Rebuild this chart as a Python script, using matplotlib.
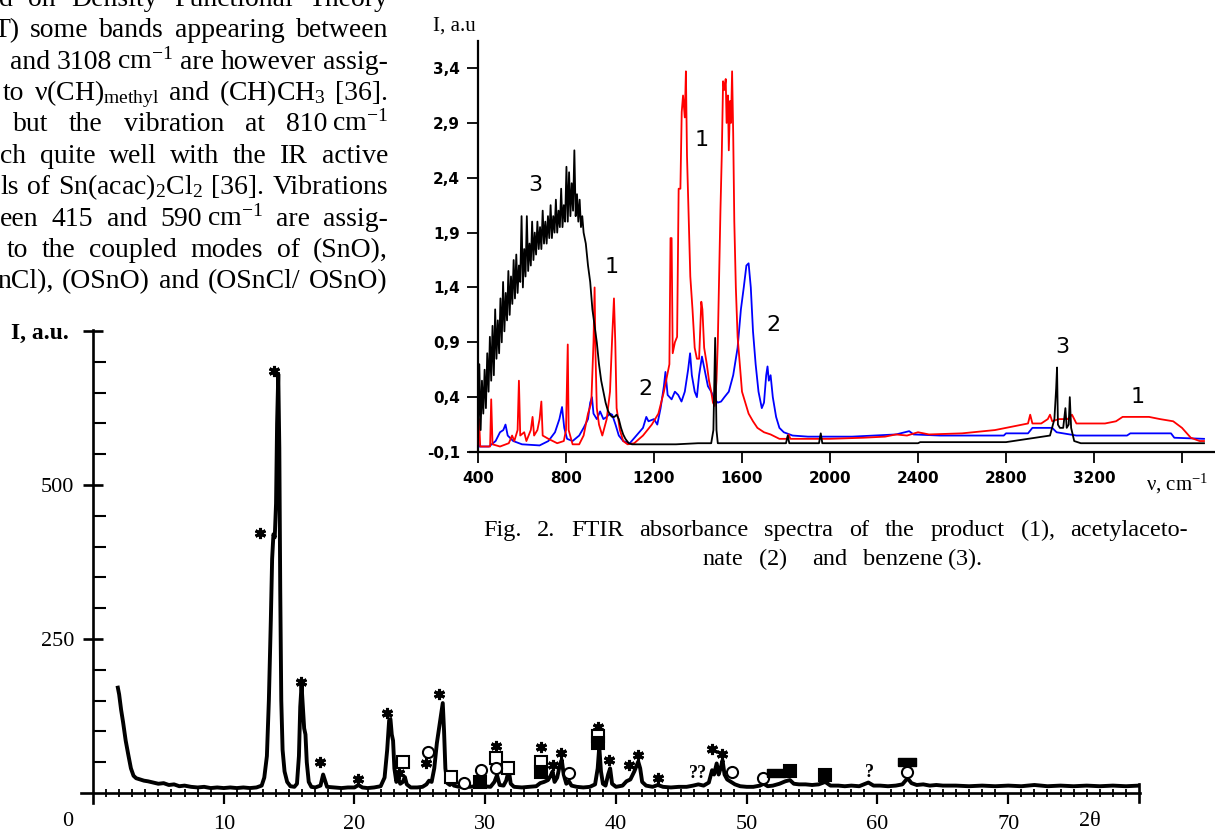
import matplotlib
matplotlib.use("Agg")
import matplotlib.pyplot as plt
from matplotlib.path import Path

# ---------------------------------------------------------------- data
# XRD pattern (2theta, intensity)
xrd_theta = [1.9, 2.0, 2.15, 2.3, 2.5, 2.7, 2.9, 3.1, 3.3, 3.6, 3.9, 4.2, 4.6, 5.0, 5.4, 5.8, 6.2, 6.6, 7.0,
             7.5, 8.0, 8.5, 9.0, 9.5, 10.0, 10.5, 11.0, 11.5, 12.0, 12.5, 12.9, 13.1, 13.3, 13.45, 13.6,
             13.7, 13.8, 13.9, 14.0, 14.08, 14.17, 14.25, 14.32, 14.4, 14.5, 14.65, 14.85, 15.1, 15.4,
             15.6, 15.75, 15.85, 15.95, 16.05, 16.15, 16.25, 16.35, 16.5, 16.7, 17.0, 17.4, 17.6, 17.75,
             17.9, 18.5, 19.0, 19.5, 20.0, 20.3, 20.6, 21.0, 21.5, 22.0, 22.3, 22.5, 22.65, 22.75, 22.85,
             22.95, 23.05, 23.2, 23.35, 23.5, 23.7, 23.85, 24.0, 24.3, 24.8, 25.2, 25.5, 25.7, 25.9, 26.1,
             26.3, 26.5, 26.6, 26.75, 26.85, 26.95, 27.1, 27.3, 27.45, 27.6, 28.0, 28.4, 28.8, 29.3, 29.6,
             29.9, 30.4, 30.7, 30.9, 31.1, 31.4, 31.6, 31.8, 31.95, 32.2, 32.8, 33.4, 33.9, 34.2, 34.5,
             34.8, 35.0, 35.15, 35.3, 35.5, 35.7, 35.85, 36.0, 36.2, 36.4, 36.6, 37.0, 37.5, 38.0, 38.4,
             38.6, 38.72, 38.85, 39.0, 39.2, 39.4, 39.55, 39.7, 40.0, 40.5, 40.8, 41.1, 41.4, 41.7, 41.85,
             42.0, 42.3, 42.8, 43.2, 43.6, 44.2, 44.8, 45.4, 45.9, 46.3, 46.7, 47.1, 47.35, 47.5, 47.7,
             47.85, 48.0, 48.15, 48.3, 48.5, 48.8, 49.1, 49.5, 50.0, 50.5, 51.0, 51.3, 51.6, 52.0, 52.5,
             52.95, 53.3, 53.6, 54.0, 54.5, 55.0, 55.5, 56.0, 56.4, 57.0, 57.5, 58.0, 58.6, 59.3, 59.7,
             60.2, 60.8, 61.4, 61.9, 62.3, 62.6, 63.0, 63.5, 64.0, 64.5, 65.0, 66.0, 67.0, 68.0, 69.0,
             70.0, 71.0, 72.0, 73.0, 74.0, 75.0, 76.0, 77.0, 78.0, 79.0, 80.0]
xrd_int = [171, 160, 135, 115, 85, 62, 40, 28, 24, 22, 20, 19, 17, 15, 16, 13, 14, 11, 12,
           10, 9, 10, 8, 9, 8, 9, 8, 9, 8, 9, 12, 25, 60, 150, 280,
           380, 420, 415, 470, 600, 680, 560, 330, 150, 70, 35, 18, 11, 10,
           15, 60, 140, 175, 140, 105, 95, 50, 18, 10, 9, 12, 30, 20,
           10, 9, 8, 9, 9, 13, 9, 8, 9, 11, 25, 70, 118, 120, 95,
           85, 40, 18, 24, 15, 18, 26, 14, 9, 9, 10, 14, 20, 18, 40,
           81, 110, 125, 146, 100, 40, 16, 13, 20, 12, 10, 12, 10, 11, 15,
           11, 10, 18, 29, 13, 12, 20, 37, 15, 10, 9, 10, 11, 16, 18,
           21, 28, 35, 18, 25, 45, 54, 30, 15, 19, 12, 10, 9, 10, 14,
           40, 75, 35, 15, 12, 30, 40, 15, 10, 12, 19, 22, 35, 51, 40,
           18, 12, 10, 13, 10, 9, 10, 10, 12, 14, 12, 17, 37, 30, 48,
           30, 40, 53, 30, 22, 18, 14, 11, 10, 10, 12, 15, 11, 12, 15,
           19, 21, 15, 14, 14, 13, 14, 18, 12, 12, 11, 12, 11, 17, 12,
           12, 11, 12, 14, 24, 16, 13, 14, 12, 13, 12, 12, 11, 12, 11,
           12, 11, 13, 11, 12, 11, 12, 11, 12, 11, 12]

# phase markers on the XRD pattern (2theta, intensity)
star_th = [13.84, 12.77, 15.9, 17.36, 20.27, 22.49, 23.4, 25.47, 26.46, 30.82, 34.26, 35.18, 35.79,
           38.62, 39.46, 40.99, 41.68, 43.21, 47.34, 48.1]
star_i = [685, 422, 180, 50, 23, 130, 33, 49, 161, 76, 75, 45, 65, 107, 54, 45, 62, 24, 71, 63]
osq_th = [23.71, 27.38, 30.82, 31.74, 34.26, 38.62]
osq_i = [50, 26, 57, 41, 50, 93]
fsq_th = [29.6, 34.26, 38.62, 53.31, 55.98]
fsq_i = [18, 34, 81, 36, 29]
circ_th = [25.62, 28.37, 29.67, 30.82, 36.4, 48.87, 51.24, 62.26]
circ_i = [67, 16, 37, 41, 32, 34, 24, 34]
bar_th = [52.24, 62.26]
bar_i = [32, 50]
q_th = [46.27, 59.35]
q_i = [32, 34]
q_txt = ["??", "?"]

xrd_xticks = [10, 20, 30, 40, 50, 60, 70]
xrd_yticks = [250, 500, 750]
xrd_ylabels = ["250", "500", ""]

# FTIR spectra (wavenumber, absorbance)
benz_nu = [400, 406, 412, 418, 424, 430, 436, 442, 448, 454, 460, 466, 472, 478, 484, 490, 496, 502,
           508, 514, 520, 526, 532, 538, 544, 550, 556, 562, 568, 574, 580, 586, 592, 598, 604, 610,
           616, 622, 628, 634, 640, 646, 652, 658, 664, 670, 676, 682, 688, 694, 700, 706, 712, 718,
           724, 730, 736, 742, 748, 754, 760, 766, 772, 778, 784, 790, 796, 802, 808, 814, 820, 826,
           832, 838, 844, 850, 856, 862, 868, 874, 880, 890, 900, 910, 920, 930, 940, 950, 960, 970,
           980, 990, 1000, 1010, 1020, 1030, 1040, 1050, 1060, 1070, 1085, 1100, 1200, 1300, 1400,
           1460, 1470, 1478, 1484, 1490, 1600, 1800, 1808, 1815, 1950, 1958, 1965, 2400, 2410, 2800,
           2900, 3000, 3020, 3028, 3032, 3036, 3045, 3060, 3070, 3076, 3085, 3090, 3096, 3110, 3140,
           3700]
benz_a = [-0.05, 0.70, 0.10, 0.55, 0.25, 0.65, 0.30, 0.80, 0.45, 0.95, 0.55, 1.05, 0.60, 1.20, 0.75,
          1.10, 0.80, 1.30, 0.90, 1.45, 1.00, 1.35, 1.10, 1.55, 1.15, 1.50, 1.25, 1.65, 1.30, 1.70,
          1.35, 1.60, 1.45, 2.05, 1.40, 1.75, 1.50, 2.05, 1.55, 1.80, 1.60, 2.00, 1.65, 1.90, 1.70,
          2.00, 1.75, 1.95, 1.75, 2.10, 1.80, 2.00, 1.80, 2.05, 1.85, 2.15, 1.85, 2.05, 1.90, 2.20,
          1.90, 2.10, 1.95, 2.30, 1.95, 2.15, 2.00, 2.50, 2.00, 2.45, 2.05, 2.35, 2.10, 2.65, 2.05,
          2.25, 2.00, 2.20, 1.95, 2.05, 1.90, 1.80, 1.60, 1.45, 1.20, 1.05, 0.90, 0.70, 0.55, 0.45,
          0.35, 0.28, 0.24, 0.22, 0.22, 0.24, 0.20, 0.12, 0.06, 0.02, -0.02, -0.03, -0.03, -0.03, -0.02,
          -0.02, 0.10, 0.94, 0.10, -0.02, -0.02, -0.02, 0.05, -0.02, -0.02, 0.07, -0.02, -0.02, -0.01,
          -0.01, 0.02, 0.05, 0.20, 0.48, 0.67, 0.15, 0.12, 0.12, 0.30, 0.12, 0.15, 0.40, 0.12, 0.00,
          -0.02, -0.02]

prod_nu = [400, 405, 410, 430, 455, 460, 466, 500, 540, 555, 565, 580, 586, 592, 610, 620, 640, 648,
           655, 670, 680, 688, 694, 720, 760, 790, 800, 808, 812, 830, 860, 880, 900, 915, 925, 930,
           934, 940, 950, 965, 985, 1000, 1010, 1018, 1024, 1030, 1045, 1060, 1080, 1110, 1150, 1190,
           1220, 1245, 1260, 1270, 1275, 1280, 1285, 1295, 1305, 1312, 1320, 1326, 1332, 1340, 1345,
           1350, 1358, 1365, 1375, 1385, 1395, 1405, 1415, 1420, 1428, 1440, 1450, 1460, 1468, 1476,
           1484, 1490, 1496, 1502, 1508, 1514, 1520, 1526, 1530, 1536, 1540, 1546, 1550, 1555, 1560,
           1565, 1572, 1580, 1590, 1600, 1615, 1630, 1650, 1670, 1700, 1730, 1770, 1805, 1812, 1820,
           2000, 2150, 2250, 2300, 2350, 2400, 2450, 2600, 2750, 2850, 2900, 2910, 2920, 2960, 2990,
           3000, 3010, 3040, 3080, 3100, 3120, 3250, 3300, 3330, 3450, 3500, 3560, 3600, 3640, 3680,
           3700]
prod_a = [-0.03, 0.20, -0.05, -0.05, -0.05, 0.38, -0.03, -0.05, -0.02, 0.05, 0.00, 0.10, 0.55, 0.05,
          0.08, 0.00, 0.10, 0.22, 0.05, 0.10, 0.20, 0.36, 0.05, 0.02, -0.02, 0.00, 0.10, 0.88, 0.10,
          -0.03, -0.03, 0.05, 0.25, 0.35, 0.90, 1.40, 0.80, 0.30, 0.15, 0.05, 0.20, 0.45, 0.95, 1.30,
          0.90, 0.30, 0.10, 0.00, -0.03, -0.02, 0.05, 0.15, 0.25, 0.45, 0.60, 0.70, 1.85, 1.85, 0.80,
          0.90, 0.95, 2.30, 2.30, 3.00, 3.15, 2.95, 3.37, 2.60, 2.00, 1.50, 1.20, 0.85, 0.75, 0.75,
          1.27, 1.20, 0.85, 0.70, 0.55, 0.45, 0.35, 0.32, 0.55, 0.90, 1.50, 2.10, 2.60, 3.28, 3.20,
          3.30, 2.90, 3.15, 2.65, 3.10, 2.90, 3.37, 2.80, 2.00, 1.40, 0.95, 0.70, 0.45, 0.35, 0.25,
          0.18, 0.12, 0.08, 0.06, 0.02, 0.02, 0.06, 0.02, 0.02, 0.03, 0.04, 0.06, 0.05, 0.08, 0.06,
          0.07, 0.10, 0.14, 0.16, 0.24, 0.16, 0.16, 0.20, 0.24, 0.18, 0.20, 0.20, 0.24, 0.16, 0.16,
          0.18, 0.22, 0.22, 0.20, 0.18, 0.12, 0.03, 0.00, 0.00]

acac_nu = [400, 405, 450, 480, 500, 515, 525, 535, 560, 600, 680, 720, 750, 770, 782, 792, 805, 830,
           860, 880, 900, 910, 918, 925, 940, 955, 970, 985, 1000, 1010, 1025, 1040, 1060, 1090, 1120,
           1150, 1165, 1175, 1200, 1215, 1230, 1245, 1252, 1262, 1280, 1295, 1310, 1325, 1340, 1355,
           1364, 1372, 1385, 1395, 1405, 1418, 1430, 1445, 1460, 1475, 1490, 1505, 1520, 1540, 1560,
           1580, 1595, 1608, 1620, 1630, 1640, 1650, 1662, 1675, 1690, 1700, 1710, 1716, 1722, 1730,
           1740, 1755, 1770, 1790, 1830, 1900, 2000, 2100, 2200, 2300, 2340, 2360, 2380, 2500, 2790,
           2800, 2900, 2920, 3010, 3030, 3120, 3350, 3365, 3550, 3565, 3700]
acac_a = [0.02, -0.05, -0.05, 0.00, 0.08, 0.10, 0.15, 0.05, 0.00, -0.03, -0.04, 0.00, 0.08, 0.20,
          0.31, 0.12, 0.02, 0.00, 0.05, 0.12, 0.20, 0.35, 0.40, 0.25, 0.20, 0.27, 0.20, 0.22, 0.25,
          0.24, 0.15, 0.05, 0.00, -0.02, 0.05, 0.12, 0.22, 0.18, 0.20, 0.15, 0.30, 0.50, 0.63, 0.42,
          0.38, 0.45, 0.42, 0.36, 0.45, 0.65, 0.80, 0.60, 0.45, 0.40, 0.60, 0.77, 0.65, 0.50, 0.45,
          0.38, 0.35, 0.36, 0.40, 0.45, 0.60, 0.85, 1.20, 1.40, 1.60, 1.62, 1.40, 1.00, 0.70, 0.45,
          0.30, 0.35, 0.60, 0.68, 0.55, 0.60, 0.40, 0.22, 0.12, 0.08, 0.05, 0.04, 0.04, 0.04, 0.05,
          0.06, 0.08, 0.09, 0.06, 0.05, 0.05, 0.07, 0.07, 0.12, 0.12, 0.08, 0.05, 0.05, 0.07, 0.07,
          0.03, 0.02]

ftir_xticks = [400, 800, 1200, 1600, 2000, 2400, 2800, 3200, 3600]
ftir_xlabels = ["400", "800", "1200", "1600", "2000", "2400", "2800", "3200", ""]
ftir_yticks = [3.4, 2.9, 2.4, 1.9, 1.4, 0.9, 0.4, -0.1]
ftir_ylabels = ["3,4", "2,9", "2,4", "1,9", "1,4", "0,9", "0,4", "-0,1"]

# curve number labels on the FTIR plot (wavenumber, absorbance, text)
lab_nu = [659, 1418, 1009, 1159, 1745, 3055, 3400]
lab_a = [2.33, 2.74, 1.59, 0.47, 1.06, 0.86, 0.40]
lab_txt = ["3", "1", "1", "2", "2", "3", "1"]

# page text (a tuple = pieces kept together with a thin gap)
para_lines = [
    ["d", "on", "Density", "Functional", "Theory"],
    ["T)", "some", "bands", "appearing", "between"],
    ["and", ("3108", "cm$^{-1}$"), "are", "however", "assig-"],
    ["to", "ν(CH)$_{\\rm methyl}$", "and", "(CH)CH$_3$", "[36]."],
    ["but", "the", "vibration", "at", ("810", "cm$^{-1}$")],
    ["ch", "quite", "well", "with", "the", "IR", "active"],
    ["ls", "of", "Sn(acac)$_2$Cl$_2$", "[36].", "Vibrations"],
    ["een", "415", "and", ("590", "cm$^{-1}$"), "are", "assig-"],
    ["to", "the", "coupled", "modes", "of", "(SnO),"],
    ["nCl),", "(OSnO)", "and", "(OSnCl/", "OSnO)"],
]
para_x0 = [-1, -7, 10, 3, 13, 0, 0, 0, 7, -3]
para_base = [6, 37, 69, 100, 131, 163, 194, 226, 257, 288]

caption1 = ["Fig.", "2.", "FTIR", "absorbance", "spectra", "of", "the", "product",
            "($\\mathit{1}$),", "acetylaceto-"]
caption2 = ["nate", "($\\mathit{2}$)", "and", "benzene", "($\\mathit{3}$)."]
caption2_x = [702, 758, 812, 863, 947]

# ---------------------------------------------------------------- style
W, H = 1215, 833
SERIF = "Liberation Serif"
plt.rcParams["mathtext.fontset"] = "custom"
plt.rcParams["mathtext.rm"] = SERIF
plt.rcParams["mathtext.it"] = SERIF + ":italic"
plt.rcParams["mathtext.bf"] = SERIF + ":bold"

fig = plt.figure(figsize=(W / 100, H / 100), dpi=100)


def px_axes(x0, y0, x1, y1):
    return fig.add_axes([x0 / W, 1 - y1 / H, (x1 - x0) / W, (y1 - y0) / H])


page = fig.add_axes([0, 0, 1, 1])
page.set_xlim(0, W)
page.set_ylim(H, 0)
page.axis("off")
renderer = fig.canvas.get_renderer()


def justify(words, x0, x1, yb, size, glue=5):
    groups = []
    for w in words:
        parts = w if isinstance(w, tuple) else (w,)
        ts = [page.text(0, yb, p, fontsize=size, family=SERIF, ha="left", va="baseline") for p in parts]
        ws = [t.get_window_extent(renderer).width for t in ts]
        groups.append((ts, ws, sum(ws) + glue * (len(ts) - 1)))
    total = sum(g[2] for g in groups)
    gap = (x1 - x0 - total) / max(len(groups) - 1, 1)
    x = x0
    for ts, ws, gw in groups:
        xx = x
        for t, w in zip(ts, ws):
            t.set_x(xx)
            xx += w + glue
        x += gw + gap


for words, x0, yb in zip(para_lines, para_x0, para_base):
    justify(words, x0, 388, yb, 20)

justify(caption1, 483, 1188, 536, 17.5)
for w, x in zip(caption2, caption2_x):
    page.text(x, 565, w, fontsize=17.5, family=SERIF, ha="left", va="baseline")

# ---------------------------------------------------------------- XRD chart
TH0, THS = 93.0, 13.075     # px of 2theta=0, px per degree
I0, IS = 793.0, 0.616       # px of I=0, px per unit
xl = (-0.9, 80.05)
yl = (-16, 752)
ax = px_axes(TH0 + xl[0] * THS, I0 - yl[1] * IS, TH0 + xl[1] * THS, I0 - yl[0] * IS)
ax.set_xlim(*xl)
ax.set_ylim(*yl)
ax.patch.set_alpha(0)
for s in ["top", "right"]:
    ax.spines[s].set_visible(False)
ax.spines["left"].set_position(("data", 0))
ax.spines["bottom"].set_position(("data", 0))
for s in ["left", "bottom"]:
    ax.spines[s].set_linewidth(1.9)

ax.plot(xrd_theta, xrd_int, color="black", lw=2.8, solid_joinstyle="round", zorder=3)

ax.set_xticks(xrd_xticks)
ax.set_xticklabels([str(v) for v in xrd_xticks])
ax.set_xticks(range(1, 80), minor=True)
ax.set_yticks(xrd_yticks)
ax.set_yticklabels(xrd_ylabels)
ax.set_yticks(range(50, 751, 50), minor=True)
ax.tick_params(axis="x", which="major", direction="out", length=8, width=1.6, pad=8,
               labelsize=16, labelfontfamily=SERIF)
ax.tick_params(axis="x", which="minor", direction="inout", length=6, width=1.3)
ax.tick_params(axis="y", which="major", direction="inout", length=15, width=1.9, pad=6,
               labelsize=16, labelfontfamily=SERIF)
ax.tick_params(axis="y", which="minor", direction="in", length=9, width=1.5)
ax.plot([xl[1] - 0.05] * 2, [-14, 14], color="black", lw=1.9, clip_on=False)

ax.plot(star_th, star_i, ls="none", marker=(6, 2, 0), ms=8, mew=2.2, color="black", zorder=4)
ax.plot(osq_th, osq_i, ls="none", marker="s", ms=8, mew=1.5, mfc="white", mec="black", zorder=4)
ax.plot(fsq_th, fsq_i, ls="none", marker="s", ms=8, mew=1.5, mfc="black", mec="black", zorder=4)
ax.plot(circ_th, circ_i, ls="none", marker="o", ms=8, mew=1.5, mfc="white", mec="black", zorder=4)
bar_path = Path([(-1, -0.45), (1, -0.45), (1, 0.45), (-1, 0.45), (-1, -0.45)])
ax.plot(bar_th, bar_i, ls="none", marker=bar_path, ms=13, mfc="black", mec="black", zorder=4)
for t, i, s in zip(q_th, q_i, q_txt):
    ax.text(t, i, s, fontsize=13, family=SERIF, fontweight="bold", ha="center", va="center", zorder=4)

page.text(68, 822, "0", fontsize=16, family=SERIF, ha="center", va="center")
page.text(1090, 822, "2θ", fontsize=16, family=SERIF, ha="center", va="center")
page.text(11, 333, "I, a.u.", fontsize=17, family=SERIF, fontweight="bold", ha="left", va="center")

# ---------------------------------------------------------------- FTIR chart
NU0, NUS = 478.0, 0.22      # px of 400 cm-1, px per cm-1
A0, AS = 452.0, 109.7       # px of -0.1, px per unit
fxl = (365, 3750)
fyl = (-0.1, 3.65)
fax = px_axes(NU0 + (fxl[0] - 400) * NUS, A0 - (fyl[1] - fyl[0]) * AS,
              NU0 + (fxl[1] - 400) * NUS, A0)
fax.set_xlim(*fxl)
fax.set_ylim(*fyl)
fax.patch.set_alpha(0)
for s in ["top", "right"]:
    fax.spines[s].set_visible(False)
fax.spines["left"].set_position(("data", 400))
for s in ["left", "bottom"]:
    fax.spines[s].set_linewidth(1.6)

fax.plot(acac_nu, acac_a, color="#0000ff", lw=1.3, zorder=3)
fax.plot(prod_nu, prod_a, color="#ff0000", lw=1.3, zorder=4)
fax.plot(benz_nu, benz_a, color="black", lw=1.3, zorder=5)

fax.set_xticks(ftir_xticks)
fax.set_xticklabels(ftir_xlabels)
fax.set_yticks(ftir_yticks)
fax.set_yticklabels(ftir_ylabels)
fax.tick_params(axis="both", direction="out", length=8, width=1.3, labelsize=11)
fax.tick_params(axis="x", pad=6)
fax.tick_params(axis="y", pad=5)
for lab in fax.get_xticklabels() + fax.get_yticklabels():
    lab.set_fontweight("bold")

for n, a, s in zip(lab_nu, lab_a, lab_txt):
    fax.text(n, a, s, fontsize=16, family="DejaVu Sans", ha="center", va="center", zorder=6)

page.text(433, 31, "I, a.u", fontsize=15, family=SERIF, ha="left", va="baseline")
page.text(1146, 490, "ν, cm$^{-1}$", fontsize=15, family=SERIF, ha="left", va="baseline")

fig.savefig("out.png", dpi=100)
